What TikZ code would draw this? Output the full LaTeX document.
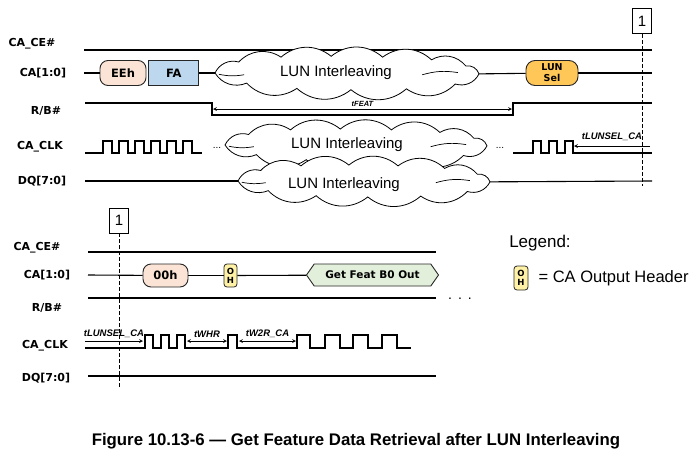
\documentclass[tikz,border=0pt]{standalone}
\usepackage{fontspec}
\setmainfont{Liberation Sans}
\newfontfamily\vfont{DejaVu Sans}
\usepackage{tikz}
\usetikzlibrary{arrows,shapes,positioning}
\definecolor{tdpeach}{RGB}{251,228,213}
\definecolor{tdblue}{RGB}{189,215,238}
\definecolor{tdorange}{RGB}{255,198,88}
\definecolor{tdyellow}{RGB}{255,242,166}
\definecolor{tdgreen}{RGB}{226,239,218}
\tikzstyle{sig} = [line width=1.1pt, color=black]
\tikzstyle{siglabel} = [font=\vfont\bfseries\fontsize{11}{12}\selectfont]
\tikzstyle{busbox} = [rectangle, draw=black!85, line width=0.9pt, minimum height=25pt, inner sep=1pt, font=\vfont\bfseries\fontsize{11.5}{13}\selectfont]
\tikzstyle{ohbox} = [rectangle, rounded corners=3pt, draw=black!85, line width=0.8pt, fill=tdyellow, minimum width=13pt, minimum height=23pt, inner sep=0pt, align=center, font=\vfont\bfseries\fontsize{8.5}{9}\selectfont]
\tikzstyle{featbox} = [signal, signal to=west and east, signal pointer angle=110, draw=black!85, line width=0.9pt, fill=tdgreen, minimum width=132pt, minimum height=22pt, font=\vfont\bfseries\fontsize{10.5}{12}\selectfont]
\tikzstyle{lunnode} = [rectangle, inner sep=0pt, font=\fontsize{15}{17}\selectfont]
\tikzstyle{cloudline} = [line width=0.8pt, fill=white]
\tikzstyle{dim} = [line width=0.7pt, >=stealth]
\tikzstyle{tlabel} = [inner sep=1pt, font=\bfseries\itshape\fontsize{9.5}{10}\selectfont]
\tikzstyle{marker} = [rectangle, draw, line width=0.7pt, minimum width=19pt, minimum height=25pt, inner sep=0pt, font=\fontsize{15}{16}\selectfont]
\tikzstyle{markline} = [line width=0.9pt, dash pattern=on 4pt off 2pt]
\tikzstyle{dotnode} = [inner sep=0pt, font=\fontsize{10}{10}\selectfont]

% #1 name, #2 centre, #3 half width, #4 half height, #5 text shift
\newcommand{\luncloud}[5]{%
  \begin{scope}[shift={#2}, x=#3pt, y=#4pt]
    \draw[cloudline] (-1,0) to[bend left=40] (-0.82,0.5) to[bend left=40] (-0.5,0.72)
      to[bend left=40] (-0.12,0.76) to[bend left=40] (0.27,0.72) to[bend left=40] (0.64,0.6)
      to[bend left=40] (0.9,0.32) to[bend left=40] (1,-0.04) to[bend left=40] (0.82,-0.5)
      to[bend left=40] (0.45,-0.72) to[bend left=40] (0.03,-0.76) to[bend left=40] (-0.38,-0.7)
      to[bend left=40] (-0.76,-0.46) to[bend left=40] cycle;
    \draw[line width=0.7pt] (-0.97,-0.06) to[bend right=10] (-0.78,-0.08);
    \draw[line width=0.7pt] (0.57,-0.08) to[bend left=12] (0.84,0.02);
    \coordinate (#1w) at (-1,0);
    \coordinate (#1e) at (1,-0.04);
  \end{scope}
  \node[lunnode, #5] (#1) at #2 {LUN Interleaving};
}

\begin{document}
\begin{tikzpicture}[x=1pt, y=-1pt]
\useasboundingbox (0,0) rectangle (697,464);

\node[siglabel] (ce1) at (32,44) {CA\_CE\#};
\node[siglabel] (ca1) at (43,73) {CA[1:0]};
\node[siglabel] (rb1) at (46,111) {R/B\#};
\node[siglabel] (clk1) at (40,147) {CA\_CLK};
\node[siglabel] (dq1) at (42,181) {DQ[7:0]};

\coordinate (ce1s) at (84,50);
\coordinate (ce1e) at (652,50);
\draw[sig] (ce1s) -- (ce1e);

\node[busbox, fill=tdpeach, rounded corners=8pt, minimum width=46pt] (eeh) at (123,73) {EEh};
\node[busbox, fill=tdblue, minimum width=50pt, right=2pt of eeh] (fa) {FA};
\luncloud{lun1}{(347,73)}{132}{22}{xshift=-11pt}
\node[busbox, fill=tdorange, rounded corners=9pt, minimum width=52pt, align=center, font=\vfont\bfseries\fontsize{9.5}{11}\selectfont] (lunsel) at (552,73) {LUN\\Sel};
\coordinate (ca1s) at (84,73);
\coordinate (ca1e) at (652,73);
\draw[sig] (ca1s) -- (eeh);
\draw[sig] (fa) -- (lun1w);
\draw[sig] (lun1e) -- (lunsel);
\draw[sig] (lunsel) -- (ca1e);

\draw[sig] (85,103) -- (212,103) -- (212,115) -- (513,115) -- (513,103) -- (652,103);
\coordinate (feat0) at (213,109);
\coordinate (feat1) at (512,109);
\draw[dim, <->] (feat0) -- node[tlabel, above=1pt, font=\bfseries\itshape\fontsize{7.5}{9}\selectfont] (tfeat) {tFEAT} (feat1);

\draw[sig] (85,153) foreach \x in {103,119,...,183} { -- (\x,153) -- (\x,141) -- (\x+9,141) -- (\x+9,153) } -- (202,153);
\node[dotnode] (dots1) at (217,148) {...};
\luncloud{lun2}{(356,145)}{131}{21}{xshift=-9pt}
\node[dotnode] (dots2) at (500,148) {...};
\draw[sig] (513,153) foreach \x in {533,549,565} { -- (\x,153) -- (\x,141) -- (\x+8,141) -- (\x+8,153) } -- (652,153);
\coordinate (luns0) at (650,146);
\coordinate (luns1) at (574,146);
\draw[dim, ->] (luns0) -- node[tlabel, above=4pt] (tlun1) {tLUNSEL\_CA} (luns1);

\coordinate (dq1s) at (85,181);
\coordinate (dq1e) at (652,181);
\luncloud{lun3}{(364,181)}{126}{21}{xshift=-20pt, yshift=-4pt}
\draw[sig] (dq1s) -- (lun3w);
\draw[sig] (lun3e) -- (dq1e);

\node[marker] (m1) at (642,21) {1};
\coordinate (m1e) at (642,186);
\draw[markline] (m1) -- (m1e);

\node[siglabel] (ce2) at (37,248) {CA\_CE\#};
\node[siglabel] (ca2) at (47,275) {CA[1:0]};
\node[siglabel] (rb2) at (47,308) {R/B\#};
\node[siglabel] (clk2) at (45,346) {CA\_CLK};
\node[siglabel] (dq2) at (46,378) {DQ[7:0]};

\coordinate (ce2s) at (88,252);
\coordinate (ce2e) at (436,252);
\draw[sig] (ce2s) -- (ce2e);

\node[busbox, fill=tdpeach, rounded corners=8pt, minimum width=45pt, minimum height=23pt] (h00) at (165.5,275.5) {00h};
\node[ohbox] (oh1) at (230.5,275.5) {O\\H};
\node[featbox] (gf) at (372.5,275) {Get Feat B0 Out};
\coordinate (ca2s) at (88,275);
\draw[sig] (ca2s) -- (h00);
\draw[sig] (h00) -- (oh1);
\draw[sig] (oh1) -- (gf);

\coordinate (rb2s) at (88,298);
\coordinate (rb2e) at (436,298);
\draw[sig] (rb2s) -- (rb2e);
\node[inner sep=0pt, font=\fontsize{14}{14}\selectfont] (dots3) at (460,299) {.\hspace{6pt}.\hspace{6pt}.};

\draw[sig] (85,348) foreach \x/\w in {145/8,161/8,177/8,228/9,297/13,325/15,353/15,382/15} { -- (\x,348) -- (\x,335) -- (\x+\w,335) -- (\x+\w,348) } -- (411,348);
\coordinate (lb0) at (85,341);
\coordinate (lb1) at (143,341);
\draw[dim, ->] (lb0) -- node[tlabel, above=2pt] (tlun2) {tLUNSEL\_CA} (lb1);
\coordinate (whr0) at (187,341);
\coordinate (whr1) at (227,341);
\draw[dim, <->] (whr0) -- node[tlabel, above=2pt] (twhr) {tWHR} (whr1);
\coordinate (w2r0) at (239,341);
\coordinate (w2r1) at (296,341);
\draw[dim, <->] (w2r0) -- node[tlabel, above=2pt] (tw2r) {tW2R\_CA} (w2r1);

\coordinate (dq2s) at (88,376);
\coordinate (dq2e) at (436,376);
\draw[sig] (dq2s) -- (dq2e);

\node[marker] (m2) at (119,220.5) {1};
\coordinate (m2e) at (119,387);
\draw[markline] (m2) -- (m2e);

\node[font=\fontsize{17}{19}\selectfont] (leg) at (540,243) {Legend:};
\node[ohbox, minimum width=14pt, minimum height=24pt] (oh2) at (521,278) {O\\H};
\node[right=10pt of oh2, inner sep=0pt, font=\fontsize{16.5}{19}\selectfont] (legtxt) {= CA Output Header};

\node[font=\bfseries\fontsize{16.8}{19}\selectfont] (cap) at (356,441) {Figure 10.13-6 — Get Feature Data Retrieval after LUN Interleaving};
\end{tikzpicture}
\end{document}
